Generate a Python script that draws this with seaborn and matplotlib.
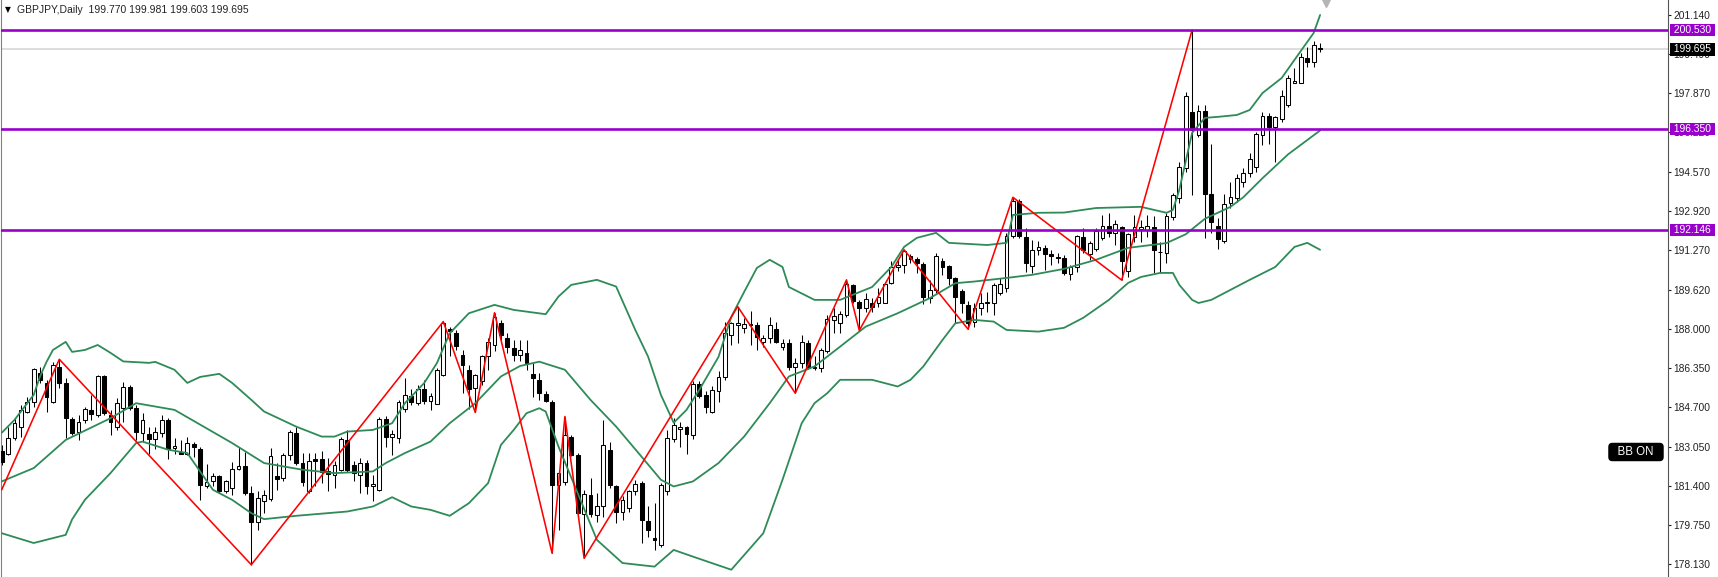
import numpy as np
import pandas as pd
import matplotlib
matplotlib.use('Agg')
import matplotlib.pyplot as plt
import matplotlib.transforms as mtransforms
import seaborn as sns

# GBPJPY daily candles (oldest -> newest)
opens = [
    182.85, 182.76, 183.39, 183.88, 184.51, 184.93, 186.12, 185.73, 184.93, 186.40,
    185.73, 184.20, 183.67, 184.16, 184.58, 184.37, 186.01, 184.37, 183.88, 184.65,
    185.56, 184.65, 183.63, 183.56, 183.35, 183.63, 184.16, 183.00, 182.83, 182.76,
    183.16, 182.97, 181.41, 181.59, 181.80, 181.21, 181.31, 182.11, 182.25, 181.10,
    179.87, 180.77, 180.85, 181.83, 181.73, 182.71, 183.61, 182.36, 181.17, 182.52,
    182.52, 182.01, 181.87, 182.08, 183.33, 182.29, 181.87, 182.36, 181.38, 181.24,
    184.20, 183.45, 183.40, 184.62, 185.18, 184.87, 185.46, 184.98, 184.84, 186.06,
    187.97, 187.83, 186.90, 186.27, 185.50, 185.82, 186.83, 187.31, 188.22, 187.59,
    187.17, 186.90, 186.97, 186.10, 185.85, 185.26, 184.94, 181.45, 181.55, 183.47,
    182.71, 180.23, 181.03, 180.19, 180.57, 182.92, 181.41, 180.33, 180.47, 181.17,
    181.52, 179.95, 179.21, 178.93, 181.21, 183.36, 183.78, 183.86, 183.54, 185.68,
    185.22, 184.52, 185.40, 185.96, 187.73, 188.15, 188.01, 188.19, 188.15, 187.43,
    187.59, 187.97, 187.24, 187.38, 186.38, 186.55, 187.41, 186.34, 186.34, 187.04,
    188.36, 188.25, 188.57, 189.83, 189.13, 188.85, 189.06, 189.06, 189.09, 189.90,
    190.57, 190.67, 191.04, 190.90, 190.71, 189.27, 189.62, 190.85, 190.62, 190.11,
    189.58, 188.99, 188.29, 188.88, 189.06, 189.09, 189.48, 189.69, 191.86, 193.36,
    191.83, 190.63, 191.30, 191.37, 191.13, 190.99, 190.94, 190.28, 190.56, 191.82,
    191.12, 191.32, 191.78, 192.30, 191.99, 192.24, 190.42, 191.85, 192.16, 192.13,
    192.27, 191.22, 191.15, 192.69, 193.46, 194.71, 197.09, 196.11, 197.13, 193.64,
    192.30, 191.68, 193.25, 193.46, 194.15, 194.53, 194.76, 196.11, 196.91, 196.43,
    196.77, 197.37, 198.30, 198.30, 199.32, 199.18, 199.770,
]
highs = [
    183.10, 183.89, 184.23, 184.79, 185.14, 186.33, 186.40, 185.84, 186.61, 186.71,
    185.91, 184.30, 184.37, 184.69, 185.21, 186.05, 186.05, 184.58, 185.07, 185.77,
    185.63, 184.79, 184.44, 183.88, 183.88, 184.37, 184.23, 183.39, 183.32, 183.46,
    183.25, 183.04, 182.34, 181.93, 181.87, 181.66, 182.41, 183.04, 182.83, 181.41,
    181.17, 181.24, 182.98, 182.36, 182.78, 183.75, 183.89, 182.78, 182.78, 182.78,
    182.85, 182.57, 182.43, 183.47, 183.75, 182.43, 182.57, 182.50, 181.87, 184.31,
    184.34, 183.75, 185.01, 185.92, 185.46, 185.64, 185.85, 185.29, 186.34, 188.29,
    188.06, 187.92, 187.08, 186.48, 186.10, 186.90, 187.59, 188.66, 188.36, 187.80,
    187.52, 187.52, 187.52, 186.55, 186.13, 185.36, 185.01, 182.08, 184.31, 183.54,
    182.78, 181.24, 181.73, 181.10, 184.17, 183.26, 181.45, 180.96, 181.24, 181.66,
    181.59, 180.54, 180.68, 181.52, 183.75, 184.24, 184.10, 183.92, 185.78, 185.78,
    185.36, 185.57, 186.20, 188.29, 188.29, 188.92, 188.43, 188.75, 188.29, 187.73,
    188.50, 188.29, 187.55, 187.55, 186.76, 187.73, 187.52, 186.83, 187.17, 188.57,
    188.85, 188.74, 190.04, 189.87, 189.20, 189.48, 189.27, 189.69, 189.97, 190.81,
    190.88, 191.30, 191.13, 190.99, 190.77, 190.04, 191.18, 190.95, 190.67, 190.15,
    189.65, 189.17, 189.06, 189.48, 189.55, 189.90, 190.11, 191.99, 193.50, 193.42,
    192.20, 191.69, 191.65, 191.51, 191.30, 191.16, 191.08, 190.66, 191.92, 192.20,
    191.68, 192.20, 192.76, 192.86, 192.55, 192.30, 191.99, 192.76, 192.55, 192.76,
    192.72, 191.64, 192.83, 193.67, 194.99, 197.93, 200.51, 197.37, 197.37, 195.73,
    192.62, 193.64, 194.15, 194.48, 194.71, 195.34, 196.25, 197.09, 197.05, 196.91,
    197.99, 198.62, 198.90, 199.53, 199.81, 200.06, 199.981,
]
lows = [
    182.30, 182.69, 183.32, 183.46, 184.44, 184.72, 185.70, 184.51, 184.86, 185.49,
    183.39, 183.53, 183.32, 184.02, 184.16, 184.30, 184.37, 183.53, 183.74, 184.09,
    184.58, 183.32, 183.25, 182.76, 182.97, 183.46, 182.55, 182.76, 182.73, 182.69,
    182.62, 180.82, 181.31, 181.38, 181.10, 181.10, 181.01, 182.06, 181.03, 178.10,
    179.56, 180.26, 180.75, 181.24, 181.59, 182.50, 182.29, 181.38, 181.10, 181.38,
    181.52, 181.17, 181.31, 182.01, 181.97, 181.59, 181.10, 181.07, 180.79, 181.17,
    183.05, 182.71, 183.22, 184.48, 184.80, 184.80, 184.84, 184.59, 184.84, 186.02,
    186.83, 187.11, 185.29, 184.62, 184.48, 185.64, 186.27, 187.04, 187.52, 186.97,
    186.62, 186.62, 186.27, 185.15, 185.01, 184.94, 178.58, 179.56, 181.45, 182.64,
    180.12, 178.37, 180.12, 179.91, 180.12, 181.31, 179.84, 179.98, 180.33, 181.03,
    179.00, 179.28, 178.72, 178.86, 181.03, 183.26, 183.05, 182.75, 183.36, 185.08,
    184.45, 184.45, 184.94, 185.85, 187.31, 187.38, 187.80, 187.31, 187.10, 187.24,
    187.38, 187.41, 187.10, 186.27, 185.29, 186.34, 186.30, 186.27, 186.16, 186.97,
    187.80, 187.83, 188.47, 189.09, 187.92, 188.71, 188.71, 188.92, 189.06, 189.87,
    190.39, 190.32, 190.74, 190.32, 189.03, 189.06, 189.48, 190.25, 189.83, 188.22,
    188.64, 187.97, 188.08, 188.57, 188.71, 188.57, 189.41, 189.55, 191.79, 191.79,
    190.35, 190.32, 191.09, 190.46, 190.67, 190.76, 190.24, 190.03, 190.38, 191.15,
    190.87, 191.26, 191.71, 191.85, 191.50, 190.03, 190.17, 191.64, 191.64, 191.85,
    190.31, 190.31, 190.76, 192.55, 193.25, 194.57, 193.60, 196.04, 191.78, 191.99,
    191.32, 191.57, 193.04, 193.32, 193.95, 194.36, 194.57, 195.69, 195.73, 194.99,
    196.67, 197.27, 198.28, 198.28, 198.97, 198.97, 199.603,
]
closes = [
    182.40, 183.39, 184.02, 184.58, 184.93, 186.29, 185.84, 185.14, 186.47, 185.73,
    184.23, 183.63, 184.09, 184.61, 184.41, 186.01, 184.44, 184.09, 184.86, 185.56,
    184.65, 183.67, 184.16, 183.35, 183.67, 184.16, 182.93, 183.07, 182.76, 183.21,
    183.04, 181.45, 181.56, 181.80, 181.21, 181.59, 182.11, 182.25, 181.10, 179.91,
    180.91, 181.03, 182.64, 181.70, 182.71, 183.68, 182.36, 181.55, 182.43, 182.46,
    181.97, 181.90, 182.29, 183.36, 182.08, 181.94, 182.36, 181.38, 181.50, 184.20,
    183.47, 183.59, 184.94, 185.22, 184.90, 185.46, 184.98, 185.18, 186.27, 188.25,
    187.89, 187.25, 186.48, 185.46, 186.06, 186.83, 187.45, 188.50, 187.73, 187.22,
    186.90, 187.08, 186.57, 185.92, 185.29, 184.98, 181.45, 181.96, 183.54, 182.71,
    180.26, 181.07, 180.23, 180.57, 183.12, 181.45, 180.33, 180.82, 181.17, 181.49,
    179.98, 179.56, 179.14, 181.45, 183.40, 183.96, 183.89, 183.58, 185.68, 185.18,
    184.73, 185.43, 185.96, 187.80, 188.22, 188.22, 188.19, 188.14, 187.66, 187.62,
    188.15, 187.45, 187.41, 186.38, 186.57, 187.43, 186.34, 186.38, 187.08, 188.39,
    188.53, 188.61, 189.87, 189.17, 188.85, 189.23, 188.92, 189.34, 189.87, 190.57,
    190.67, 191.23, 190.90, 190.76, 189.31, 189.62, 191.02, 190.57, 190.11, 189.34,
    189.09, 188.25, 188.88, 189.06, 189.13, 189.83, 189.87, 191.88, 193.36, 191.88,
    190.74, 191.30, 191.40, 191.13, 191.02, 190.96, 190.31, 190.59, 191.88, 191.29,
    191.60, 192.10, 192.30, 191.99, 192.38, 190.84, 191.96, 192.24, 192.24, 192.30,
    191.29, 191.19, 192.72, 193.60, 194.78, 197.75, 196.32, 197.13, 193.64, 192.48,
    191.74, 193.22, 193.50, 194.29, 194.53, 195.09, 196.15, 196.91, 196.43, 196.85,
    197.75, 198.48, 198.39, 199.37, 199.18, 199.88, 199.695,
]

# Bollinger bands (bar index, price)
bb_upper = [(0, 183.63), (2, 184.17), (5, 185.22), (6, 186.0), (7, 186.6), (8, 187.10),
            (10, 187.44), (11, 187.02), (13, 187.10), (15, 187.31), (17, 186.98), (19, 186.62),
            (23, 186.56), (24, 186.60), (27, 186.27), (29, 185.72), (31, 185.97), (34, 186.10),
            (36, 185.72), (39, 185.01), (41, 184.52), (46, 183.89), (50, 183.47), (52, 183.47),
            (54, 183.68), (58, 183.75), (61, 184.03), (63, 184.87), (66, 185.71), (68, 186.55),
            (70, 187.80), (73, 188.64), (77, 188.99), (80, 188.78), (85, 188.60), (87, 189.34),
            (89, 189.83), (93, 190.04), (96, 189.76), (99, 187.94), (101, 186.82), (103, 185.22),
            (105, 184.05), (107, 184.59), (109, 185.43), (112, 186.81), (114, 188.49), (116, 189.53),
            (118, 190.54), (120, 190.88), (122, 190.58), (123, 189.74), (127, 189.20), (131, 189.20),
            (136, 189.74), (139, 190.58), (141, 191.42), (143, 191.80), (146, 192.01), (148, 191.59),
            (154, 191.50), (157, 191.59), (158, 192.76), (162, 192.85), (166, 192.86), (171, 193.05),
            (178, 193.10), (182, 192.85), (183, 192.97), (184, 193.81), (186, 196.20), (188, 196.83),
            (190, 196.87), (193, 196.95), (195, 197.16), (197, 197.87), (200, 198.50), (202, 199.26),
            (205, 200.39), (206, 201.14)]
bb_mid = [(0, 181.59), (5, 182.15), (10, 183.33), (17, 184.24), (21, 184.87), (27, 184.59),
          (36, 183.20), (41, 182.36), (47, 182.08), (52, 181.94), (58, 182.01), (60, 182.36),
          (63, 182.78), (67, 183.26), (70, 184.03), (74, 184.87), (78, 185.99), (81, 186.43),
          (84, 186.61), (88, 186.27), (92, 185.01), (96, 183.89), (100, 182.62), (103, 181.66),
          (105, 181.38), (108, 181.59), (112, 182.36), (116, 183.47), (120, 184.87), (123, 185.99),
          (127, 186.41), (131, 187.24), (135, 188.08), (140, 188.64), (145, 189.27), (149, 189.90),
          (152, 189.97), (157, 190.12), (161, 190.25), (166, 190.50), (171, 190.88), (176, 191.38),
          (182, 191.58), (185, 191.95), (188, 192.60), (192, 193.10), (194, 193.50), (197, 194.30),
          (201, 195.30), (206, 196.30)]
bb_lower = [(0, 179.42), (5, 179.01), (10, 179.35), (11, 180.0), (13, 180.82), (17, 181.94),
            (21, 183.20), (22, 183.26), (26, 182.92), (29, 182.78), (33, 181.24), (36, 180.82),
            (39, 180.26), (41, 180.01), (46, 180.15), (54, 180.33), (58, 180.54), (61, 180.93),
            (64, 180.54), (67, 180.40), (70, 180.15), (73, 180.68), (76, 181.52), (78, 183.12),
            (80, 183.75), (82, 184.45), (84, 184.66), (85, 184.52), (87, 183.05), (90, 181.10),
            (93, 179.14), (97, 178.17), (102, 178.02), (105, 178.72), (108, 178.44), (114, 177.89),
            (119, 179.42), (122, 181.66), (125, 184.03), (127, 184.87), (129, 185.29), (131, 185.85),
            (136, 185.85), (140, 185.57), (142, 185.85), (144, 186.41), (147, 187.52), (149, 188.22),
            (152, 188.36), (155, 188.29), (157, 187.94), (162, 187.87), (166, 188.03), (169, 188.45),
            (173, 189.20), (176, 189.91), (178, 190.16), (181, 190.33), (183, 190.33), (184, 189.83),
            (186, 189.20), (187, 189.07), (189, 189.20), (192, 189.62), (195, 190.04), (199, 190.58),
            (202, 191.42), (204, 191.59), (206, 191.30)]

# ZigZag swing points (bar index, price)
zigzag = [(0, 181.24), (9, 186.71), (39, 178.10), (69, 188.29), (74, 184.48), (77, 188.66),
          (86, 178.58), (88, 184.31), (91, 178.37), (115, 188.92), (124, 185.29), (132, 190.04),
          (134, 187.92), (141, 191.30), (151, 187.97), (158, 193.50), (175, 190.03), (186, 200.51)]

# horizontal levels and price scale
levels = [200.530, 196.350, 192.146]
bid = 199.695
price_ticks = [201.140, 199.490, 197.870, 196.220, 194.570, 192.920, 191.270, 189.620,
               188.000, 186.350, 184.700, 183.050, 181.400, 179.750, 178.130]
header = "GBPJPY,Daily  199.770 199.981 199.603 199.695"

sns.set_style('white')
plt.rcParams['font.family'] = ['Liberation Sans', 'DejaVu Sans']

W, H = 1718, 577
fig = plt.figure(figsize=(W / 100, H / 100), dpi=100)
fig.patch.set_facecolor('white')
ax = fig.add_axes([1 / W, 0, 1667 / W, 1])
ax.set_facecolor('white')

o = np.array(opens)
h = np.array(highs)
l = np.array(lows)
c = np.array(closes)
idx = np.arange(len(c))
up = c >= o

# candles
ax.vlines(idx, l, h, color='black', linewidth=0.75, zorder=2)
ax.bar(idx[up], (c - o)[up], bottom=o[up], width=0.58, color='white',
       edgecolor='black', linewidth=0.75, zorder=3)
ax.bar(idx[~up], (o - c)[~up], bottom=c[~up], width=0.58, color='black',
       edgecolor='black', linewidth=0.75, zorder=3)

# bollinger bands + zigzag
green = '#2E8B57'
for band in [bb_upper, bb_mid, bb_lower]:
    df = pd.DataFrame(band, columns=['bar', 'price'])
    sns.lineplot(data=df, x='bar', y='price', ax=ax, color=green, linewidth=1.3,
                 estimator=None, sort=False, legend=False, zorder=5)
zz = pd.DataFrame(zigzag, columns=['bar', 'price'])
sns.lineplot(data=zz, x='bar', y='price', ax=ax, color='#FF0000', linewidth=1.15,
             estimator=None, sort=False, legend=False, zorder=6)

# levels
ax.axhline(bid, color='#DADADA', linewidth=1.3, zorder=1)
for lv in levels:
    ax.axhline(lv, color='#9900CC', linewidth=1.9, zorder=7)

ax.set_xlim(-0.11, 260.36)
ax.set_ylim(177.585, 201.769)
ax.set_xlabel('')
ax.set_ylabel('')
ax.set_xticks([])
ax.yaxis.tick_right()
ax.set_yticks(price_ticks)
ax.set_yticklabels([f'{v:.3f}' for v in price_ticks])
ax.tick_params(axis='y', length=2.2, width=0.8, pad=1.6, labelsize=7.4,
               colors='#222222', direction='out')
for s in ['top', 'bottom']:
    ax.spines[s].set_visible(False)
ax.spines['left'].set_color('#808080')
ax.spines['left'].set_linewidth(0.8)
ax.spines['right'].set_color('#555555')
ax.spines['right'].set_linewidth(0.8)

# price tags on the scale
trans = mtransforms.blended_transform_factory(ax.transAxes, ax.transData)
for lv in levels:
    ax.text(1.0018, lv, f' {lv:.3f} ', transform=trans, ha='left', va='center',
            color='white', fontsize=7.4, clip_on=False, zorder=10,
            bbox=dict(boxstyle='square,pad=0.1', fc='#9900CC', ec='none'))
ax.text(1.0018, bid, f' {bid:.3f} ', transform=trans, ha='left', va='center',
        color='white', fontsize=7.4, clip_on=False, zorder=10,
        bbox=dict(boxstyle='square,pad=0.1', fc='black', ec='none'))

# "BB ON" button
ax.text(0.9808, 1 - 452 / H, '  BB ON  ', transform=ax.transAxes, ha='center',
        va='center', color='white', fontsize=8.3, zorder=10,
        bbox=dict(boxstyle='round,pad=0.22,rounding_size=0.3', fc='black', ec='black'))

# chart shift marker
ax.plot([len(c)], [0.994], marker='v', color='#B5B5B5', markersize=6,
        transform=ax.get_xaxis_transform(), clip_on=False, zorder=10)

# header
fig.text(5 / W, 1 - 10 / H, '\u25BC', fontsize=5.5, color='black', va='center',
         family=['DejaVu Sans'])
fig.text(17 / W, 1 - 10 / H, header, fontsize=7.5, color='#222222', va='center')

fig.savefig('out.png', dpi=100, facecolor='white')
